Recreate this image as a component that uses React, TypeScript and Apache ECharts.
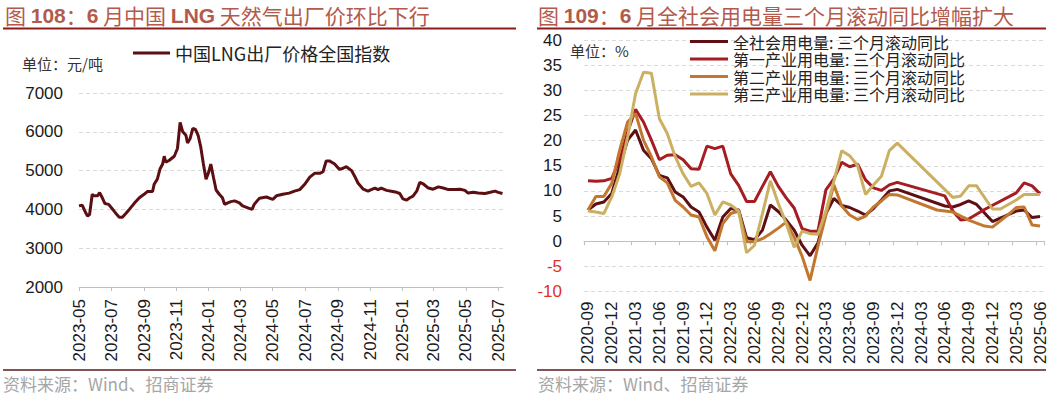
import React, { useEffect, useRef } from "react";
import * as echarts from "echarts";

const CJK = '"Noto Sans CJK SC", "Noto Sans", sans-serif';
const LATIN = '"Liberation Sans", Arial, "Noto Sans CJK SC", sans-serif';

// ---------- Left chart: China LNG ex-factory price index ----------
const lngDates = [
  "2023-05-01", "2023-05-07", "2023-05-12", "2023-05-17", "2023-05-21", "2023-05-26", "2023-05-29",
  "2023-06-05", "2023-06-09", "2023-06-14", "2023-06-19", "2023-06-26", "2023-07-02", "2023-07-09",
  "2023-07-16", "2023-07-22", "2023-07-28", "2023-08-04", "2023-08-13", "2023-08-23", "2023-09-01",
  "2023-09-07", "2023-09-17", "2023-09-20", "2023-09-26", "2023-10-01", "2023-10-06", "2023-10-09",
  "2023-10-12", "2023-10-18", "2023-10-28", "2023-11-03", "2023-11-08", "2023-11-13", "2023-11-19",
  "2023-11-22", "2023-11-27", "2023-12-02", "2023-12-07", "2023-12-12", "2023-12-17", "2023-12-22",
  "2023-12-27", "2024-01-01", "2024-01-05", "2024-01-10", "2024-01-15", "2024-01-21", "2024-01-27",
  "2024-01-31", "2024-02-06", "2024-02-12", "2024-02-19", "2024-02-28", "2024-03-05", "2024-03-15",
  "2024-03-23", "2024-03-27", "2024-04-06", "2024-04-19", "2024-05-01", "2024-05-08", "2024-05-20",
  "2024-06-01", "2024-06-11", "2024-06-21", "2024-06-30", "2024-07-10", "2024-07-19", "2024-07-29",
  "2024-08-04", "2024-08-10", "2024-08-16", "2024-08-26", "2024-09-04", "2024-09-11", "2024-09-17",
  "2024-09-27", "2024-10-03", "2024-10-09", "2024-10-19", "2024-10-28", "2024-11-03", "2024-11-10",
  "2024-11-16", "2024-11-22", "2024-12-02", "2024-12-11", "2024-12-21", "2024-12-27", "2025-01-02",
  "2025-01-09", "2025-01-15", "2025-01-21", "2025-01-28", "2025-02-03", "2025-02-09", "2025-02-19",
  "2025-02-28", "2025-03-10", "2025-03-19", "2025-03-29", "2025-04-10", "2025-04-20", "2025-04-29",
  "2025-05-05", "2025-05-15", "2025-05-24", "2025-06-06", "2025-06-16", "2025-06-25", "2025-07-01",
  "2025-07-09",
];
const lngValues = [
  4090, 4110, 3960, 3830, 3870, 4390, 4350,
  4350, 4430, 4300, 4150, 4130, 4030, 3910,
  3800, 3800, 3890, 4000, 4150, 4300, 4390,
  4460, 4460, 4650, 4780, 5040, 5170, 5370,
  5220, 5260, 5370, 5570, 6240, 6000, 5910,
  5710, 5830, 6090, 6060, 5910, 5610, 5170,
  4780, 4960, 5170, 4830, 4500, 4390, 4300,
  4130, 4170, 4200, 4220, 4170, 4090, 4040,
  4000, 4130, 4290, 4320, 4260, 4350, 4390,
  4420, 4470, 4510, 4640, 4830, 4930, 4930,
  4970, 5250, 5250, 5170, 5030, 5060, 5100,
  5000, 4850, 4680, 4520, 4470, 4510, 4550,
  4510, 4550, 4490, 4470, 4440, 4410, 4270,
  4240, 4300, 4340, 4470, 4700, 4660, 4550,
  4520, 4580, 4550, 4510, 4510, 4520, 4490,
  4420, 4440, 4420, 4410, 4440, 4470, 4440,
  4410,
];
const lngTickMonths = [
  "2023-05-01", "2023-07-01", "2023-09-01", "2023-11-01", "2024-01-01", "2024-03-01", "2024-05-01",
  "2024-07-01", "2024-09-01", "2024-11-01", "2025-01-01", "2025-03-01", "2025-05-01", "2025-07-01",
];

// ---------- Right chart: electricity consumption 3-month rolling YoY ----------
const elecMonths = [
  "2020-09", "2020-10", "2020-11", "2020-12",
  "2021-01", "2021-02", "2021-03", "2021-04", "2021-05", "2021-06", "2021-07", "2021-08", "2021-09", "2021-10", "2021-11", "2021-12",
  "2022-01", "2022-02", "2022-03", "2022-04", "2022-05", "2022-06", "2022-07", "2022-08", "2022-09", "2022-10", "2022-11", "2022-12",
  "2023-01", "2023-02", "2023-03", "2023-04", "2023-05", "2023-06", "2023-07", "2023-08", "2023-09", "2023-10", "2023-11", "2023-12",
  "2024-01", "2024-02", "2024-03", "2024-04", "2024-05", "2024-06", "2024-07", "2024-08", "2024-09", "2024-10", "2024-11", "2024-12",
  "2025-01", "2025-02", "2025-03", "2025-04", "2025-05", "2025-06",
];
const totalYoY = [
  6.2, 7.4, 7.8, 9.5, 14.8, 20.1, 22.1, 18.1, 16.4, 13.1,
  12.6, 9.8, 8.8, 6.8, 5.8, 2.8, 0.2, 4.8, 6.5, 6.2,
  0.7, 0.3, 2.2, 7.2, 5.9, 4.2, 2.2, -0.8, -2.9, -0.3,
  5.5, 8.5, 7.1, 6.7, 6.0, 5.2, 6.5, 8.2, 10.0, 10.3,
  null, null, null, null, null, 7.0, 6.8, 7.3, 8.0, 7.3,
  null, 3.9, 4.6, null, 6.0, 6.2, 4.7, 4.9,
];
const primaryYoY = [
  12.0, 11.9, 12.0, 12.5, 16.1, 21.7, 26.2, 23.7, 20.1, 16.2,
  17.1, 17.2, 16.2, 14.4, 14.3, 18.9, 18.4, 18.9, 13.4, 11.1,
  7.9, 7.9, 10.9, 13.8, 10.9, 8.6, 6.6, 2.5, 2.0, 2.0,
  10.2, 12.4, 15.7, 14.8, 15.3, 12.2, 10.6, 10.1, 11.2, 11.7,
  null, null, null, null, null, 9.0, 6.0, 4.2, 4.4, null,
  6.3, null, null, null, 9.6, 11.6, 11.0, 9.4,
];
const secondaryYoY = [
  6.2, 8.9, 8.9, 11.5, 18.1, 23.7, 25.4, 20.1, 16.8, 12.8,
  11.6, 8.1, 6.8, 5.2, 4.8, 0.9, -1.9, 3.5, 5.5, 6.0,
  -0.1, -0.1, 0.5, 1.5, 2.6, 3.8, 0.8, -3.0, -7.8, -1.0,
  5.2, 11.2, 7.0, 5.2, 4.3, 5.0, 6.8, 8.0, 9.3, 9.2,
  null, null, null, null, 6.2, null, 5.8, null, 4.2, null,
  3.0, 2.8, null, 5.3, 6.7, 6.8, 3.2, 3.0,
];
const tertiaryYoY = [
  6.0, 5.8, 5.5, 8.8, 13.4, 20.7, 29.3, 33.6, 33.4, 24.4,
  21.4, 16.8, 13.4, 10.9, 11.6, 9.5, 5.2, 7.8, 7.2, 6.0,
  -2.3, -0.8, 5.5, 12.0, 7.5, 3.5, -1.2, 2.0, 1.5, 1.4,
  6.0, 11.9, 18.0, 17.0, 15.0, 9.3, 11.2, 12.9, 18.0, 19.5,
  null, null, null, null, null, null, 8.7, 9.0, 11.0, 11.0,
  null, 6.4, 6.4, null, 8.2, 9.3, null, 9.3,
];
const elecNames = [
  "全社会用电量: 三个月滚动同比",
  "第一产业用电量: 三个月滚动同比",
  "第二产业用电量: 三个月滚动同比",
  "第三产业用电量: 三个月滚动同比",
];
const elecColors = ["#5e0f14", "#a51c22", "#c2762e", "#cbb063"];
const lngName = "中国LNG出厂价格全国指数";

const TITLE_COLOR = "#b35a4c";

function parseDate(s: string): number {
  const [y, m, d] = s.split("-").map(Number);
  return new Date(y, m - 1, d || 1).getTime();
}

export default function App() {
  const ref = useRef<HTMLDivElement>(null);

  useEffect(() => {
    document.body.style.margin = "0";
    const chart = echarts.init(ref.current!, null, { renderer: "svg" });
    const tickValues = lngTickMonths.map(parseDate);
    const fmtMonth = (v: number) => {
      const d = new Date(v);
      return `${d.getFullYear()}-${String(d.getMonth() + 1).padStart(2, "0")}`;
    };
    const titleRich = {
      c: { fontFamily: CJK, fontSize: 21, fill: TITLE_COLOR },
      b: { fontFamily: LATIN, fontSize: 21, fontWeight: "bold", fill: TITLE_COLOR },
    };
    const axisFont = { fontSize: 17, fontFamily: LATIN, color: "#1a1a1a" };
    const gridLine = { lineStyle: { color: "#d9d9d9", type: [4, 3] as any, width: 1 } };

    const option: any = {
      animation: false,
      backgroundColor: "#ffffff",
      textStyle: { fontFamily: CJK },
      grid: [
        { left: 79, top: 93, width: 424, height: 194 },
        { left: 584, top: 40, width: 460, height: 251.5 },
      ],
      legend: [
        {
          data: [lngName],
          left: 133,
          top: 44,
          padding: 0,
          icon: "rect",
          itemWidth: 37,
          itemHeight: 3,
          textStyle: { fontSize: 18, color: "#222", fontFamily: CJK },
        },
        {
          data: elecNames,
          orient: "vertical",
          left: 690,
          top: 33,
          padding: 0,
          itemGap: 0.5,
          icon: "rect",
          itemWidth: 38,
          itemHeight: 3,
          textStyle: { fontSize: 16, lineHeight: 17, color: "#222", fontFamily: CJK },
        },
      ],
      xAxis: [
        {
          type: "value",
          gridIndex: 0,
          min: parseDate("2023-05-01"),
          max: parseDate("2025-07-10"),
          axisLine: { show: true, lineStyle: { color: "#bfbfbf" } },
          axisTick: { show: true, length: 4, lineStyle: { color: "#bfbfbf" }, customValues: tickValues },
          axisLabel: {
            ...axisFont,
            customValues: tickValues,
            rotate: 90,
            margin: 12,
            formatter: (v: number) => fmtMonth(v),
          },
          splitLine: { show: false },
        },
        {
          type: "category",
          gridIndex: 1,
          position: "bottom",
          data: elecMonths,
          boundaryGap: true,
          axisLine: { show: false, onZero: false },
          axisTick: { show: false },
          axisLabel: { ...axisFont, interval: 2, rotate: 90, margin: 10 },
          splitLine: { show: false },
        },
        {
          type: "category",
          gridIndex: 1,
          position: "bottom",
          data: elecMonths,
          boundaryGap: true,
          axisLine: { show: true, onZero: true, lineStyle: { color: "#bfbfbf" } },
          axisTick: { show: true, interval: 2, length: 4, lineStyle: { color: "#bfbfbf" } },
          axisLabel: { show: false },
          splitLine: { show: false },
        },
      ],
      yAxis: [
        {
          type: "value",
          gridIndex: 0,
          min: 2000,
          max: 7000,
          interval: 1000,
          axisLine: { show: false },
          axisTick: { show: false },
          axisLabel: { ...axisFont, margin: 16, formatter: (v: number) => String(v) },
          splitLine: gridLine,
        },
        {
          type: "value",
          gridIndex: 1,
          min: -10,
          max: 40,
          interval: 5,
          axisLine: { show: false },
          axisTick: { show: false },
          axisLabel: {
            margin: 22,
            formatter: (v: number) => (v < 0 ? `{n|${v}}` : `{p|${v}}`),
            rich: {
              n: { fontSize: 17, fontFamily: LATIN, color: "#e0302a" },
              p: { fontSize: 17, fontFamily: LATIN, color: "#1a1a1a" },
            },
          },
          splitLine: gridLine,
        },
      ],
      series: [
        {
          name: lngName,
          type: "line",
          xAxisIndex: 0,
          yAxisIndex: 0,
          data: lngDates.map((d, i) => [parseDate(d), lngValues[i]]),
          symbol: "none",
          lineStyle: { width: 3, color: "#5c0f12" },
          itemStyle: { color: "#5c0f12" },
        },
        ...[totalYoY, primaryYoY, secondaryYoY, tertiaryYoY].map((arr, i) => ({
          name: elecNames[i],
          type: "line",
          xAxisIndex: 1,
          yAxisIndex: 1,
          data: arr,
          connectNulls: true,
          symbol: "none",
          lineStyle: { width: 3, color: elecColors[i] },
          itemStyle: { color: elecColors[i] },
        })),
      ],
      graphic: [
        {
          type: "text",
          x: 5,
          y: 15,
          style: {
            text: "{c|图 }{b|108}{c|：}{b|6}{c| 月中国 }{b|LNG}{c| 天然气出厂价环比下行}",
            rich: titleRich,
            verticalAlign: "middle",
          },
        },
        {
          type: "text",
          x: 538,
          y: 15,
          style: {
            text: "{c|图 }{b|109}{c|：}{b|6}{c| 月全社会用电量三个月滚动同比增幅扩大}",
            rich: titleRich,
            verticalAlign: "middle",
          },
        },
        { type: "line", shape: { x1: 3, y1: 28.5, x2: 516, y2: 28.5 }, style: { stroke: "#8c1c1c", lineWidth: 2 } },
        { type: "line", shape: { x1: 537, y1: 28.5, x2: 1046, y2: 28.5 }, style: { stroke: "#8c1c1c", lineWidth: 2 } },
        { type: "line", shape: { x1: 3, y1: 370, x2: 516, y2: 370 }, style: { stroke: "#5b1a1a", lineWidth: 1.5 } },
        { type: "line", shape: { x1: 537, y1: 370, x2: 1046, y2: 370 }, style: { stroke: "#5b1a1a", lineWidth: 1.5 } },
        {
          type: "text",
          x: 3,
          y: 383,
          style: { text: "资料来源：Wind、招商证券", fill: "#a6a6a6", fontSize: 17, fontFamily: CJK, verticalAlign: "middle" },
        },
        {
          type: "text",
          x: 538,
          y: 383,
          style: { text: "资料来源：Wind、招商证券", fill: "#a6a6a6", fontSize: 17, fontFamily: CJK, verticalAlign: "middle" },
        },
        {
          type: "text",
          x: 22,
          y: 63,
          style: { text: "单位：元/吨", fill: "#333", fontSize: 15, fontFamily: CJK, verticalAlign: "middle" },
        },
        {
          type: "text",
          x: 570,
          y: 50,
          style: { text: "单位：%", fill: "#333", fontSize: 15, fontFamily: CJK, verticalAlign: "middle" },
        },
      ],
    };
    chart.setOption(option);
    return () => chart.dispose();
  }, []);

  return <div ref={ref} style={{ width: 1049, height: 396 }} />;
}
